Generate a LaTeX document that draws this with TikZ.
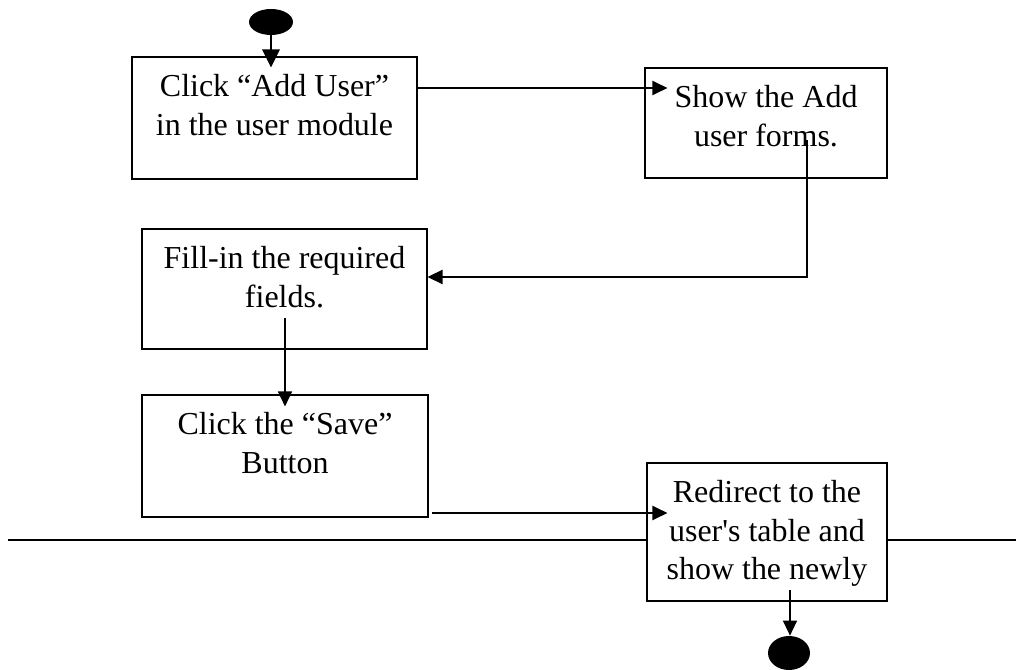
\documentclass[tikz,border=0pt]{standalone}
\usepackage{fontspec}
\setmainfont{Liberation Serif}[Ligatures=TeXOff]
\usetikzlibrary{shapes.geometric,arrows.meta}

\newcommand{\boxtext}[3]{\parbox[c][#2][t]{#1}{\centering\rule{0pt}{0.79cm}#3}}

\begin{document}
\begin{tikzpicture}[
  box/.style={draw,line width=0.6pt,fill=white,inner sep=0pt,font=\fontsize{18.2pt}{22pt}\selectfont},
  dot/.style={ellipse,fill=black,inner sep=0pt},
  arr/.style={-{Triangle[length=0.3cm,width=0.28cm]}}]
\useasboundingbox (0,0) rectangle (20.32,-13.4);
\draw[line width=1.5pt] (0.16,-10.8) -- (20.32,-10.8);
\node[dot,minimum width=0.88cm,minimum height=0.52cm] (start) at (5.42,-0.44) {};
\node[box] (add) at (5.49,-2.36) {\boxtext{5.7cm}{2.44cm}{Click “Add User”\\in the user module}};
\node[box] (show) at (15.32,-2.46) {\boxtext{4.84cm}{2.2cm}{Show the Add\\user forms.}};
\node[box] (fillin) at (5.69,-5.78) {\boxtext{5.7cm}{2.4cm}{Fill-in the required\\fields.}};
\node[box] (save) at (5.7,-9.12) {\boxtext{5.72cm}{2.44cm}{Click the “Save”\\Button}};
\node[box] (redirect) at (15.34,-10.64) {\boxtext{4.8cm}{2.76cm}{Redirect to the\\user's table and\\show the newly}};
\node[dot,minimum width=0.84cm,minimum height=0.68cm] (finish) at (15.78,-13.06) {};
\coordinate (f2) at (16.14,-2.8);
\coordinate (f3) at (5.7,-6.36);
\coordinate (f4) at (8.64,-10.26);
\coordinate (f5) at (15.8,-11.8);
\draw[line width=1.7pt,-{Triangle[length=0.36cm,width=0.34cm]},shorten >=-0.22cm] (start.south) -- (start |- add.north);
\draw[line width=1.1pt,arr,shorten >=-0.46cm] ([yshift=0.6cm]add.east) -- ([yshift=0.6cm]add.east -| show.west);
\draw[line width=1.4pt,arr] (f2) |- ([yshift=0.24cm]fillin.east);
\draw[line width=0.8pt,arr,shorten >=-0.24cm] (f3) -- (f3 |- save.north);
\draw[line width=1.1pt,arr,shorten >=-0.42cm] (f4) -- (f4 -| redirect.west);
\draw[line width=0.8pt,arr] (f5) -- (f5 |- finish.north);
\end{tikzpicture}
\end{document}
